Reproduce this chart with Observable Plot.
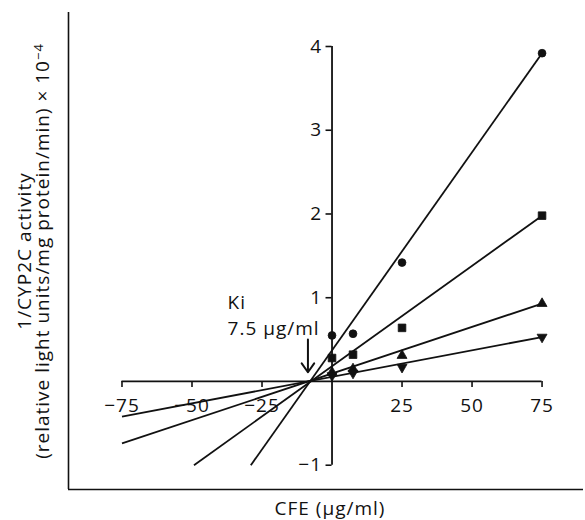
<!DOCTYPE html>
<html><head><meta charset="utf-8">
<script src="https://cdn.jsdelivr.net/npm/d3@7"></script>
<script src="https://cdn.jsdelivr.net/npm/@observablehq/plot@0.6"></script>
<style>body{margin:0;background:#fff} svg{display:block} svg text{letter-spacing:1px}</style>
</head><body><div id="chart"></div>
<script>
// ---- data ----
const concentrations = [0, 7.5, 25, 75];
const circleValues = [0.55, 0.57, 1.42, 3.92];
const squareValues = [0.28, 0.32, 0.64, 1.98];
const triangleUpValues = [0.11, 0.15, 0.31, 0.93];
const triangleDownValues = [0.07, 0.10, 0.17, 0.53];
const seriesNames = ["circle", "square", "triangleUp", "triangleDown"];
const fitLineX1 = [-29, -49.3, -75, -75];
const fitLineY1 = [-1, -1, -0.74, -0.42];
const fitLineX2 = [75, 75, 75, 75];
const fitLineY2 = [3.92, 1.98, 0.93, 0.53];
const xTicks = [-75, -50, -25, 25, 50, 75];
const yTicks = [-1, 1, 2, 3, 4];
const kiLabel = ["Ki", "7.5 μg/ml"];
const kiArrowX = -8.6, kiArrowY1 = 0.5, kiArrowY2 = 0.11;
const kiTextX = -37.3, kiTextY = 0.81;
const xLabel = "CFE (μg/ml)";
const yLabelLines = ["1/CYP2C activity", "(relative light units/mg protein/min) × 10"];
const yLabelExponent = "−4";

// ---- layout ----
const W = 585, H = 520, ML = 68, MR = 2, MT = 12, MB = 31;
const xDomain = [-94.1, 89.8], yDomain = [-1.29, 4.406];
const pxX = (W - ML - MR) / (xDomain[1] - xDomain[0]);
const pxY = (H - MT - MB) / (yDomain[1] - yDomain[0]);
const FONT = "Open Sans";
const FS = 19;

const valuesBySeries = [circleValues, squareValues, triangleUpValues, triangleDownValues];
const points = seriesNames.flatMap((s, i) => concentrations.map((c, j) => ({series: s, x: c, y: valuesBySeries[i][j]})));
const fits = seriesNames.map((s, i) => ({series: s, x1: fitLineX1[i], y1: fitLineY1[i], x2: fitLineX2[i], y2: fitLineY2[i]}));

const sqrt3 = Math.sqrt(3);
const triangleDown = {
  draw(ctx, size) {
    const y = -Math.sqrt(size / (sqrt3 * 3));
    ctx.moveTo(0, -y * 2);
    ctx.lineTo(-sqrt3 * y, y);
    ctx.lineTo(sqrt3 * y, y);
    ctx.closePath();
  }
};
const symbolOf = {circle: "circle", square: "square", triangleUp: "triangle", triangleDown: triangleDown};
const radiusOf = {circle: 3.9, square: 4.3, triangleUp: 3.7, triangleDown: 3.7};
const fmt = d3.format("d");

const plot = Plot.plot({
  width: W, height: H,
  marginLeft: ML, marginRight: MR, marginTop: MT, marginBottom: MB,
  x: {domain: xDomain, axis: null},
  y: {domain: yDomain, axis: null},
  style: {fontFamily: FONT, background: "white"},
  marks: [
    // outer frame (left and bottom)
    Plot.ruleX([xDomain[0]], {stroke: "#111", strokeWidth: 1.6}),
    Plot.ruleY([yDomain[0]], {stroke: "#111", strokeWidth: 1.6}),
    // inner axes
    Plot.ruleY([0], {x1: xTicks[0], x2: xTicks[xTicks.length - 1], stroke: "#111", strokeWidth: 1.8}),
    Plot.ruleX([0], {y1: yTicks[0], y2: yTicks[yTicks.length - 1], stroke: "#111", strokeWidth: 1.8}),
    Plot.ruleX(xTicks, {x: d => d, y1: 0, y2: -6 / pxY, stroke: "#111", strokeWidth: 1.6}),
    Plot.ruleY(yTicks, {y: d => d, x1: 0, x2: -6 / pxX, stroke: "#111", strokeWidth: 1.6}),
    Plot.text(xTicks, {x: d => d, y: 0, dy: 24, text: d => fmt(d), fontSize: FS, fill: "#111"}),
    Plot.text(yTicks, {x: 0, y: d => d, dx: -10, text: d => fmt(d), textAnchor: "end", fontSize: FS, fill: "#111"}),
    // fitted lines
    Plot.link(fits, {x1: "x1", y1: "y1", x2: "x2", y2: "y2", stroke: "#111", strokeWidth: 1.8}),
    // data points
    ...seriesNames.map(s => Plot.dot(points.filter(d => d.series === s), {
      x: "x", y: "y", symbol: symbolOf[s], r: radiusOf[s], fill: "#111", stroke: "#111", strokeWidth: 0.8
    })),
    // Ki annotation
    Plot.text([kiLabel.join("\n")], {x: kiTextX, y: kiTextY, textAnchor: "start", lineHeight: 1.35, fontSize: FS, fill: "#111"}),
    Plot.arrow([0], {x1: kiArrowX, x2: kiArrowX, y1: kiArrowY1, y2: kiArrowY2, stroke: "#111", strokeWidth: 2, headLength: 9, headAngle: 70}),
    // axis labels
    Plot.text([xLabel], {frameAnchor: "bottom", dy: 19, dx: 4, textAnchor: "middle", lineAnchor: "middle", fontSize: FS, fill: "#111"}),
    Plot.text([yLabelLines.join("\n")], {frameAnchor: "left", dx: -34, rotate: -90, textAnchor: "middle", lineAnchor: "middle", lineHeight: 0.95, fontSize: FS, fill: "#111"})
  ]
});

// superscript exponent on the y label
plot.querySelectorAll("tspan").forEach(t => {
  if (t.textContent === yLabelLines[1]) {
    const sup = document.createElementNS("http://www.w3.org/2000/svg", "tspan");
    sup.setAttribute("dy", "-0.45em");
    sup.setAttribute("font-size", "13");
    sup.textContent = yLabelExponent;
    t.appendChild(sup);
  }
});
document.getElementById("chart").appendChild(plot);
</script>
</body></html>
